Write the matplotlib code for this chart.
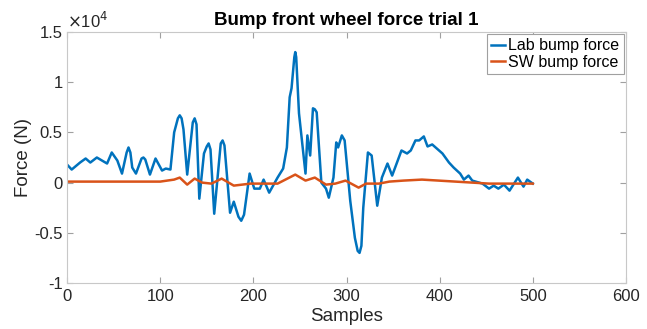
import matplotlib.pyplot as plt
from matplotlib.ticker import FuncFormatter

# Lab bump force (N)
lab_x = [0, 5, 14, 20, 25, 32, 43, 48, 54, 59, 64, 66, 68, 70, 74, 80, 82, 84, 89, 95,
         102, 106, 111, 115, 119, 121, 123, 125, 129, 135, 137, 139, 142, 147, 150,
         152, 154, 158, 165, 167, 169, 175, 179, 184, 187, 190, 196, 201, 207, 211,
         217, 226, 232, 236, 239, 241, 244, 245, 246, 249, 256, 258, 261, 264, 266,
         268, 273, 278, 281, 286, 289, 291, 295, 298, 304, 309, 312, 314, 316, 318,
         323, 327, 333, 338, 344, 349, 359, 365, 369, 374, 378, 383, 387, 392, 403,
         410, 415, 422, 426, 431, 435, 446, 453, 458, 463, 469, 475, 484, 490, 494,
         500]
lab_y = [1800, 1300, 2000, 2400, 2000, 2500, 1900, 3000, 2200, 900, 3000, 3500, 3000,
         1500, 900, 2400, 2500, 2300, 800, 2400, 1200, 1400, 1300, 5000, 6400, 6700,
         6400, 5300, 800, 6000, 6400, 5800, -1600, 2900, 3600, 3900, 3300, -3100,
         3900, 4200, 3700, -3000, -1900, -3400, -3800, -3200, 900, -600, -600, 300,
         -1000, 500, 1400, 3500, 8500, 9400, 12500, 13000, 12500, 6900, 900, 4700,
         2700, 7400, 7300, 7000, 0, -600, -1500, 500, 4000, 3500, 4700, 4200, -1800,
         -5500, -6800, -7000, -6300, -2500, 3000, 2700, -2300, 500, 1900, 700, 3200,
         2900, 3200, 4200, 4200, 4600, 3600, 3800, 2900, 2000, 1500, 900, 300, 700,
         200, -100, -600, -300, -600, -200, -800, 500, -400, 300, -100]

# SW bump force (N)
sw_x = [0, 50, 100, 115, 121, 129, 137, 145, 155, 166, 179, 197, 226, 245, 256,
        266, 278, 288, 299, 313, 321, 335, 346, 361, 381, 417, 453, 500]
sw_y = [100, 100, 100, 300, 500, -200, 400, 0, -100, 400, -300, -100, -100, 800,
        200, 500, -200, -100, 200, -500, -100, -100, 100, 200, 300, 100, -100, -100]

plt.rcParams['font.family'] = ['Liberation Sans', 'DejaVu Sans']

fig = plt.figure(figsize=(6.47, 3.29), dpi=100)
ax = fig.add_axes([0.1036, 0.1398, 0.8639, 0.7629])

ax.plot(lab_x, lab_y, color='#0072BD', linewidth=1.8, label='Lab bump force')
ax.plot(sw_x, sw_y, color='#D95319', linewidth=1.8, label='SW bump force')

ax.set_xlim(0, 600)
ax.set_ylim(-10000, 15000)
ax.set_xticks([0, 100, 200, 300, 400, 500, 600])
ax.set_yticks([-10000, -5000, 0, 5000, 10000, 15000])
ax.yaxis.set_major_formatter(FuncFormatter(lambda v, p: '%g' % (v / 1e4)))
ax.text(0.0, 1.005, r'$\times$10$^{4}$', transform=ax.transAxes, fontsize=12,
        color='#262626', va='bottom', ha='left')

for s in ax.spines.values():
    s.set_color('#c8c8c8')
    s.set_linewidth(0.8)
ax.tick_params(direction='in', length=4, color='#a0a0a0', labelsize=12,
               labelcolor='#262626', top=True, right=True, pad=4)
ax.tick_params(axis='y', pad=3)

ax.set_title('Bump front wheel force trial 1', fontsize=13.5, fontweight='bold', pad=5)
ax.set_xlabel('Samples', fontsize=13.5, color='#262626', labelpad=3)
ax.set_ylabel('Force (N)', fontsize=13.5, color='#262626', labelpad=2)

leg = ax.legend(loc='upper right', fontsize=11.5, handlelength=0.9, handletextpad=0.2,
                borderpad=0.25, labelspacing=0.1, fancybox=False, framealpha=1,
                borderaxespad=0.15)
leg.get_frame().set_edgecolor('#a0a0a0')
leg.get_frame().set_linewidth(0.8)

plt.savefig('out.png', dpi=100)
plt.close()
